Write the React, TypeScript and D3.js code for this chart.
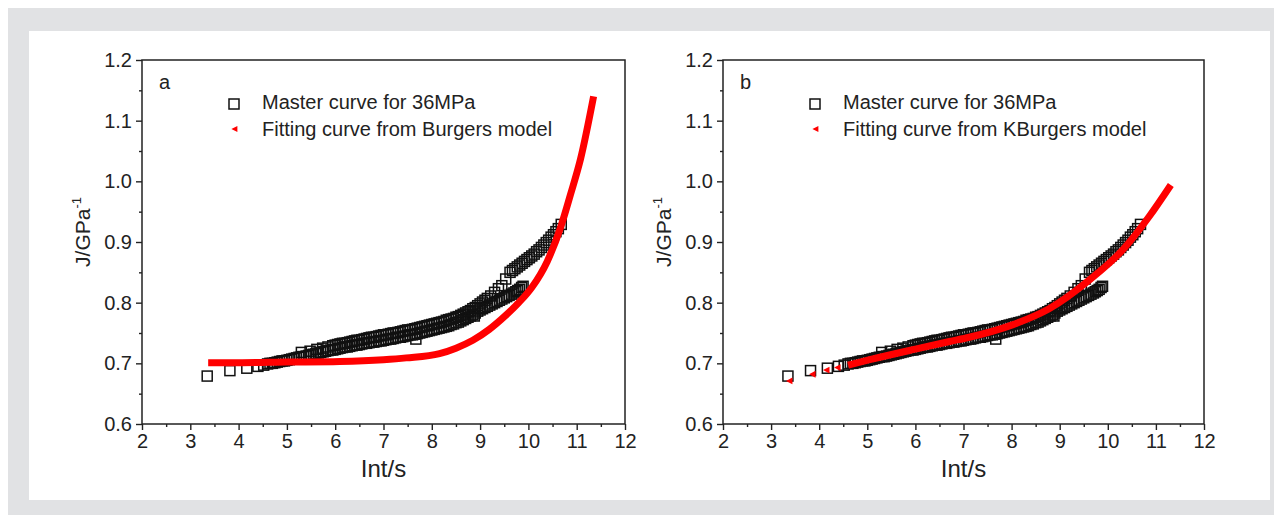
import React, { useEffect, useRef } from 'react';
import * as d3 from 'd3';

// axis ticks
const xTicks = [2, 3, 4, 5, 6, 7, 8, 9, 10, 11, 12];
const yTicks = [0.6, 0.7, 0.8, 0.9, 1.0, 1.1, 1.2];

// master curve for 36MPa (ln t, J), three overlapping runs
const masterLow: [number, number][] = [
  [3.35, 0.679], [3.82, 0.688], [4.17, 0.692], [4.40, 0.695], [4.52, 0.697],
  [4.60, 0.699], [4.65, 0.700], [4.70, 0.700], [4.75, 0.701], [4.80, 0.702], [4.85, 0.703],
  [4.90, 0.704], [4.95, 0.704], [5.00, 0.705], [5.05, 0.706], [5.10, 0.707], [5.15, 0.708],
  [5.20, 0.709], [5.25, 0.710], [5.30, 0.711], [5.35, 0.711], [5.40, 0.712], [5.45, 0.713],
  [5.50, 0.714], [5.55, 0.715], [5.60, 0.716], [5.65, 0.717], [5.70, 0.718], [5.75, 0.719],
  [5.80, 0.720], [5.85, 0.721], [5.90, 0.722], [5.95, 0.722], [6.00, 0.723], [6.05, 0.724],
  [6.10, 0.725], [6.15, 0.726], [6.20, 0.727], [6.25, 0.727], [6.30, 0.728], [6.35, 0.729],
  [6.40, 0.730], [6.45, 0.730], [6.50, 0.731], [6.55, 0.732], [6.60, 0.733], [6.65, 0.733],
  [6.70, 0.734], [6.75, 0.735], [6.80, 0.735], [6.85, 0.736], [6.90, 0.737], [6.95, 0.737],
  [7.00, 0.738], [7.05, 0.739], [7.10, 0.740], [7.15, 0.740], [7.20, 0.741], [7.25, 0.742],
  [7.30, 0.743], [7.35, 0.743], [7.40, 0.744], [7.45, 0.745], [7.50, 0.746], [7.55, 0.747],
  [7.60, 0.747], [7.65, 0.748], [7.67, 0.740], [7.70, 0.749], [7.75, 0.750], [7.80, 0.751],
  [7.85, 0.752], [7.90, 0.753], [7.95, 0.754], [8.00, 0.755], [8.05, 0.756], [8.10, 0.757],
  [8.15, 0.758], [8.20, 0.759], [8.25, 0.760], [8.30, 0.761], [8.35, 0.762], [8.40, 0.764],
  [8.45, 0.765], [8.50, 0.767], [8.55, 0.768], [8.60, 0.770], [8.65, 0.772], [8.70, 0.774],
  [8.75, 0.776], [8.80, 0.778], [8.85, 0.780], [8.88, 0.778], [8.90, 0.783], [8.95, 0.786],
  [9.00, 0.788], [9.05, 0.790], [9.10, 0.792], [9.15, 0.794], [9.20, 0.796], [9.25, 0.798],
  [9.30, 0.800], [9.35, 0.802], [9.40, 0.804], [9.45, 0.806], [9.50, 0.808], [9.55, 0.810],
  [9.60, 0.812], [9.65, 0.814], [9.70, 0.816], [9.74, 0.818], [9.78, 0.820], [9.82, 0.822],
  [9.86, 0.825], [9.89, 0.827],
];
const masterHigh: [number, number][] = [
  [5.30, 0.718], [5.48, 0.720], [5.62, 0.723], [5.74, 0.725], [5.85, 0.727], [5.95, 0.729],
  [6.00, 0.730], [6.05, 0.731], [6.10, 0.732], [6.15, 0.733], [6.20, 0.733], [6.25, 0.734],
  [6.30, 0.735], [6.35, 0.736], [6.40, 0.737], [6.45, 0.738], [6.50, 0.738], [6.55, 0.739],
  [6.60, 0.740], [6.65, 0.741], [6.70, 0.742], [6.75, 0.743], [6.80, 0.743], [6.85, 0.744],
  [6.90, 0.745], [6.95, 0.746], [7.00, 0.747], [7.05, 0.747], [7.10, 0.748], [7.15, 0.749],
  [7.20, 0.750], [7.25, 0.750], [7.30, 0.751], [7.35, 0.752], [7.40, 0.753], [7.45, 0.754],
  [7.50, 0.755], [7.55, 0.755], [7.60, 0.756], [7.65, 0.757], [7.70, 0.758], [7.75, 0.759],
  [7.80, 0.760], [7.85, 0.761], [7.90, 0.762], [7.95, 0.763], [8.00, 0.764], [8.05, 0.765],
  [8.10, 0.766], [8.15, 0.767], [8.20, 0.768], [8.25, 0.769], [8.30, 0.771], [8.35, 0.772],
  [8.40, 0.773], [8.45, 0.774], [8.50, 0.776], [8.55, 0.777], [8.60, 0.779], [8.65, 0.781],
  [8.70, 0.783], [8.75, 0.785], [8.80, 0.787], [8.85, 0.790], [8.90, 0.792], [8.95, 0.795],
  [9.00, 0.798], [9.05, 0.801], [9.10, 0.804], [9.15, 0.807], [9.22, 0.811], [9.30, 0.817],
  [9.38, 0.823], [9.45, 0.828], [9.53, 0.839],
];
const masterTop: [number, number][] = [
  [9.62, 0.850], [9.67, 0.853], [9.72, 0.856], [9.77, 0.859], [9.82, 0.862], [9.87, 0.865],
  [9.92, 0.868], [9.97, 0.871], [10.02, 0.874], [10.07, 0.877], [10.12, 0.880], [10.17, 0.884],
  [10.22, 0.887], [10.27, 0.891], [10.32, 0.895], [10.37, 0.899], [10.42, 0.903], [10.47, 0.908],
  [10.52, 0.912], [10.57, 0.917], [10.62, 0.922], [10.68, 0.929],
];

// fitting curves
const fitBurgers: [number, number][] = [
  [3.37, 0.701], [4.0, 0.701], [5.0, 0.702], [6.09, 0.703], [7.0, 0.706], [7.47, 0.709],
  [8.16, 0.716], [8.5, 0.725], [8.85, 0.738], [9.19, 0.756], [9.53, 0.779], [9.8, 0.800],
  [10.07, 0.825], [10.39, 0.868], [10.67, 0.925], [10.87, 0.978], [11.08, 1.037], [11.35, 1.140],
];
const fitKBurgersDots: [number, number][] = [
  [3.39, 0.671], [3.87, 0.682], [4.16, 0.689], [4.39, 0.693],
];
const fitKBurgers: [number, number][] = [
  [4.60, 0.697], [5.05, 0.706], [6.09, 0.725], [6.71, 0.736], [7.12, 0.743], [8.0, 0.763],
  [8.78, 0.790], [9.61, 0.837], [10.31, 0.887], [10.86, 0.942], [11.31, 0.994],
];

const masterName = 'Master curve for 36MPa';
const FONT = "'Liberation Sans', Arial, sans-serif";

type Panel = {
  x0: number;
  x1: number;
  tag: string;
  fitName: string;
  fit: [number, number][];
  fitDots: [number, number][];
};

const panels: Panel[] = [
  { x0: 134, x1: 617, tag: 'a', fitName: 'Fitting curve from Burgers model', fit: fitBurgers, fitDots: [] },
  { x0: 715, x1: 1196, tag: 'b', fitName: 'Fitting curve from KBurgers model', fit: fitKBurgers, fitDots: fitKBurgersDots },
];

const TOP = 52;
const BOTTOM = 416;
const redMark = 'M-3,0L2,-2.6L2,2.6Z';

function drawPanel(root: any, p: Panel) {
  const x = d3.scaleLinear().domain([2, 12]).range([p.x0, p.x1]);
  const y = d3.scaleLinear().domain([0.6, 1.2]).range([BOTTOM, TOP]);
  const g = root.append('g');

  // minor ticks
  g.append('g').attr('transform', `translate(0,${BOTTOM})`)
    .call(d3.axisBottom(x).tickValues(d3.range(2.5, 12, 1)).tickSize(3).tickSizeOuter(0).tickFormat(() => ''));
  g.append('g').attr('transform', `translate(${p.x0},0)`)
    .call(d3.axisLeft(y).tickValues(d3.range(0.65, 1.2, 0.1)).tickSize(3).tickSizeOuter(0).tickFormat(() => ''));

  // major ticks
  g.append('g').attr('transform', `translate(0,${BOTTOM})`)
    .call(d3.axisBottom(x).tickValues(xTicks).tickSize(6).tickSizeOuter(0).tickPadding(4).tickFormat(d3.format('d')));
  g.append('g').attr('transform', `translate(${p.x0},0)`)
    .call(d3.axisLeft(y).tickValues(yTicks).tickSize(6).tickSizeOuter(0).tickPadding(4).tickFormat(d3.format('.1f')));

  g.selectAll('.domain').remove();
  g.selectAll('.tick line').attr('stroke', '#222').attr('stroke-width', 1.4);
  g.selectAll('.tick text').attr('fill', '#222').style('font-family', FONT).style('font-size', '20px');

  // frame
  g.append('rect')
    .attr('x', p.x0).attr('y', TOP)
    .attr('width', p.x1 - p.x0).attr('height', BOTTOM - TOP)
    .attr('fill', 'none').attr('stroke', '#222').attr('stroke-width', 1.5);

  // master curve squares
  const master = [...masterLow, ...masterHigh, ...masterTop];
  g.append('g').selectAll('rect').data(master).join('rect')
    .attr('x', (d: [number, number]) => x(d[0]) - 5)
    .attr('y', (d: [number, number]) => y(d[1]) - 5)
    .attr('width', 10).attr('height', 10)
    .attr('fill', 'none').attr('stroke', '#111').attr('stroke-width', 1.5);

  // fit
  const line = d3.line<[number, number]>().x(d => x(d[0])).y(d => y(d[1])).curve(d3.curveMonotoneX);
  g.append('path').attr('d', line(p.fit)).attr('fill', 'none').attr('stroke', '#ff0000').attr('stroke-width', 7);
  g.append('g').selectAll('path').data(p.fitDots).join('path')
    .attr('d', redMark).attr('fill', '#ff0000')
    .attr('transform', (d: [number, number]) => `translate(${x(d[0])},${y(d[1])}) scale(1.3)`);

  // panel tag
  g.append('text').attr('x', p.x0 + 17).attr('y', 81).text(p.tag)
    .attr('fill', '#222').style('font-family', FONT).style('font-size', '20px');

  // legend
  const lx = p.x0 + 92;
  g.append('rect').attr('x', lx - 5).attr('y', 96 - 5).attr('width', 10).attr('height', 10)
    .attr('fill', 'none').attr('stroke', '#111').attr('stroke-width', 1.5);
  g.append('path').attr('d', redMark).attr('fill', '#ff0000').attr('transform', `translate(${lx + 1},121) scale(1.2)`);
  g.append('text').attr('x', p.x0 + 120).attr('y', 101).text(masterName)
    .attr('fill', '#222').style('font-family', FONT).style('font-size', '20px');
  g.append('text').attr('x', p.x0 + 120).attr('y', 128).text(p.fitName)
    .attr('fill', '#222').style('font-family', FONT).style('font-size', '20px');

  // axis titles
  g.append('text').attr('x', (p.x0 + p.x1) / 2).attr('y', 469).attr('text-anchor', 'middle')
    .text('Int/s').attr('fill', '#222').style('font-family', FONT).style('font-size', '24px');
  const yt = g.append('text')
    .attr('transform', `translate(${p.x0 - 52},224) rotate(-90)`)
    .attr('text-anchor', 'middle')
    .attr('fill', '#222').style('font-family', FONT).style('font-size', '21px');
  yt.append('tspan').text('J/GPa');
  yt.append('tspan').attr('dy', -9).style('font-size', '13px').text('-1');
}

export default function App() {
  const ref = useRef<SVGSVGElement>(null);

  useEffect(() => {
    document.body.style.overflow = 'hidden';
    const svg = d3.select(ref.current);
    svg.selectAll('*').remove();
    svg.append('rect').attr('width', 1274).attr('height', 507).attr('fill', '#e1e2e4');
    svg.append('rect').attr('x', 21).attr('y', 23).attr('width', 1241).attr('height', 469).attr('fill', '#ffffff');
    panels.forEach(p => drawPanel(svg, p));
  }, []);

  return <svg ref={ref} width={1274} height={507} style={{ display: 'block' }} />;
}
